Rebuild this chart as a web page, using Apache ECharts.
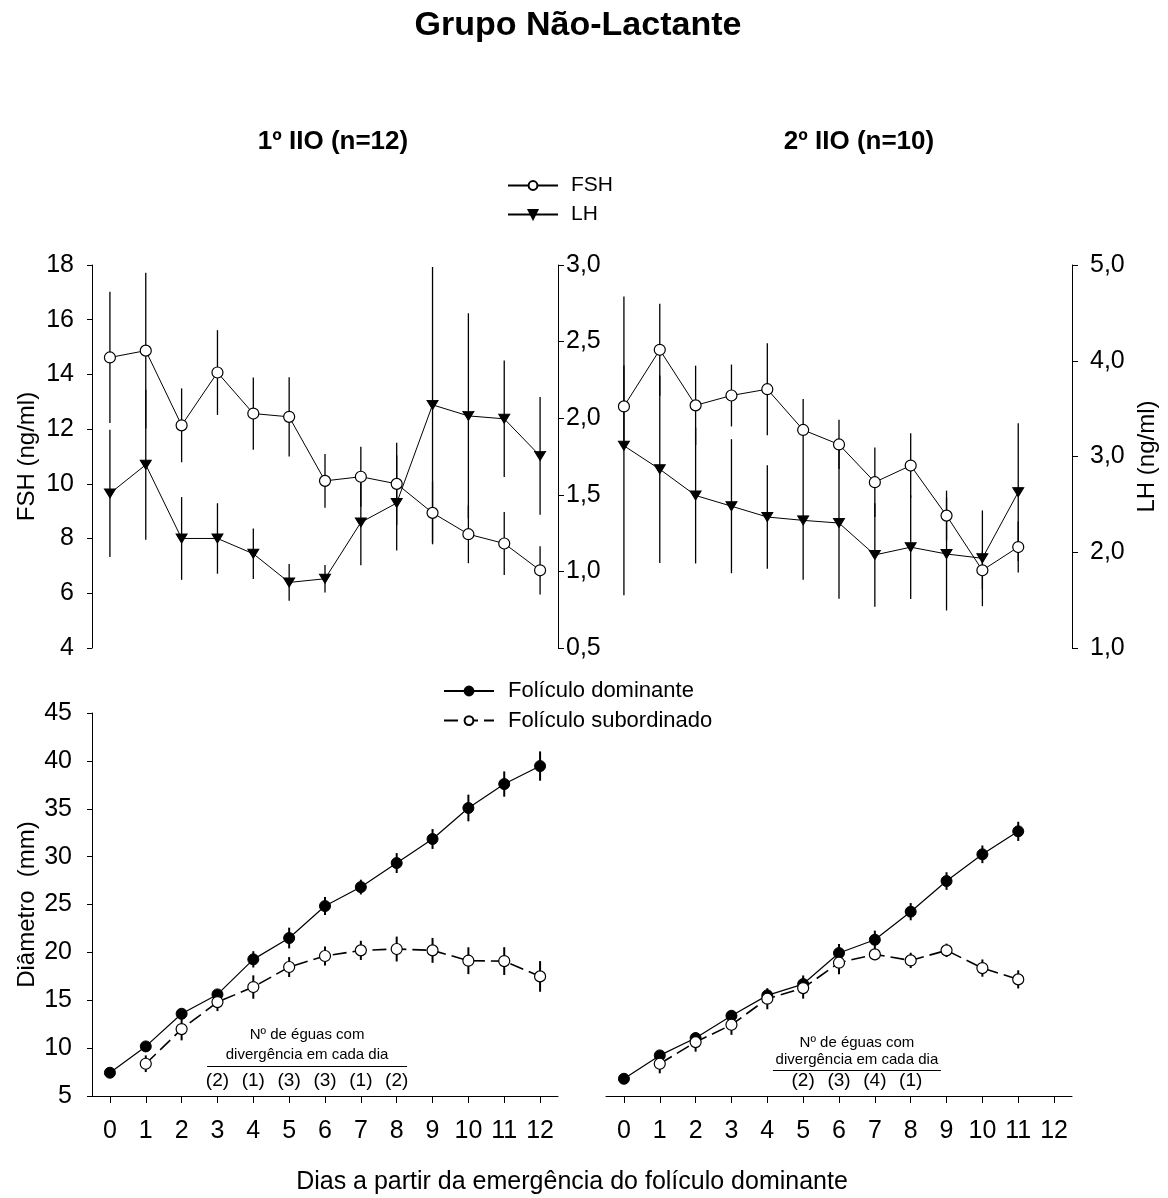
<!DOCTYPE html>
<html>
<head>
<meta charset="utf-8">
<title>Grupo Não-Lactante</title>
<script src="https://cdn.jsdelivr.net/npm/echarts@6/dist/echarts.min.js"></script>
<style>
  html, body { margin: 0; padding: 0; background: #fff; }
  #chart { width: 1168px; height: 1198px; }
</style>
</head>
<body>
<div id="chart"></div>
<script>
// Days from emergence of the dominant follicle (category axis)
const days = ['0', '1', '2', '3', '4', '5', '6', '7', '8', '9', '10', '11', '12'];

// 1st interovulatory interval (n=12): hormones, mean and error
const fsh1    = [14.62, 14.87, 12.14, 14.07, 12.57, 12.45, 10.11, 10.26, 10.00, 8.94, 8.16, 7.82, 6.84];
const fsh1Err = [2.40, 2.85, 1.35, 1.55, 1.32, 1.45, 0.98, 1.10, 1.50, 1.15, 1.06, 1.15, 0.88];
const lh1     = [1.509, 1.696, 1.215, 1.215, 1.115, 0.928, 0.952, 1.320, 1.446, 2.087, 2.015, 1.996, 1.754];
const lh1Err  = [0.415, 0.49, 0.27, 0.23, 0.165, 0.12, 0.09, 0.28, 0.31, 0.90, 0.67, 0.38, 0.385];

// 2nd interovulatory interval (n=10): hormones
const fsh2    = [12.83, 14.90, 12.87, 13.23, 13.46, 11.97, 11.44, 10.06, 10.67, 8.84, 6.84, 7.69];
const fsh2Err = [1.50, 1.68, 1.45, 1.13, 1.68, 1.13, 0.90, 1.27, 1.18, 0.91, 0.70, 0.93];
const lh2     = [3.112, 2.867, 2.593, 2.481, 2.368, 2.333, 2.305, 1.972, 2.053, 1.982, 1.937, 2.628];
const lh2Err  = [1.56, 0.98, 0.71, 0.70, 0.54, 0.62, 0.79, 0.54, 0.54, 0.59, 0.50, 0.72];

// Follicle diameters (mm), 1st interval
const dom1    = [7.43, 10.18, 13.59, 15.61, 19.27, 21.50, 24.84, 26.82, 29.33, 31.84, 35.08, 37.58, 39.46];
const dom1Err = [0.30, 0.35, 0.50, 0.50, 0.85, 1.08, 0.94, 0.77, 1.04, 1.04, 1.39, 1.32, 1.53];
const sub1    = [null, 8.37, 11.99, 14.81, 16.38, 18.47, 19.62, 20.21, 20.35, 20.21, 19.13, 19.09, 17.49];
const sub1Err = [null, 0.87, 1.18, 0.94, 1.22, 1.04, 1.00, 1.00, 1.30, 1.30, 1.40, 1.45, 1.60];

// Follicle diameters (mm), 2nd interval
const dom2    = [6.80, 9.24, 11.05, 13.38, 15.51, 16.69, 19.93, 21.32, 24.25, 27.45, 30.24, 32.64];
const dom2Err = [0.30, 0.40, 0.40, 0.40, 0.60, 0.90, 0.95, 0.95, 0.90, 0.92, 0.92, 1.00];
const sub2    = [null, 8.37, 10.63, 12.44, 15.16, 16.27, 18.92, 19.79, 19.16, 20.21, 18.36, 17.18];
const sub2Err = [null, 1.00, 1.00, 1.05, 1.10, 1.10, 1.20, 0.60, 0.80, 0.70, 0.90, 0.95];

// Number of mares with divergence on each day
const divDays1   = [3, 4, 5, 6, 7, 8];
const divCounts1 = [2, 1, 3, 3, 1, 2];
const divDays2   = [5, 6, 7, 8];
const divCounts2 = [2, 3, 4, 1];

const FONT = "'Liberation Sans', Arial, Helvetica, sans-serif";
const BLACK = '#000';
const commaFmt = v => v.toFixed(1).replace('.', ',');

// Vertical error bars (mean ± error) drawn as plain lines through the marks
function errorBars(xi, yi, vals, errs, width) {
  const data = [];
  vals.forEach((v, i) => { if (v != null) data.push([i, v - errs[i], v + errs[i]]); });
  return {
    type: 'custom', xAxisIndex: xi, yAxisIndex: yi, z: 1, silent: true, clip: false,
    encode: { x: 0, y: [1, 2] },
    data,
    renderItem(params, api) {
      const lo = api.coord([api.value(0), api.value(1)]);
      const hi = api.coord([api.value(0), api.value(2)]);
      return {
        type: 'line',
        shape: { x1: lo[0], y1: lo[1], x2: hi[0], y2: hi[1] },
        style: { stroke: BLACK, lineWidth: width }
      };
    }
  };
}

function lineSeries(name, xi, yi, vals, kind, dashed, width) {
  const s = {
    name, type: 'line', xAxisIndex: xi, yAxisIndex: yi, z: 3,
    data: vals, connectNulls: false, animation: false,
    lineStyle: { color: BLACK, width: width, type: dashed ? [14, 6] : 'solid' },
    itemStyle: { color: BLACK, borderColor: BLACK, borderWidth: 1 },
    symbol: 'circle', symbolSize: 11, showSymbol: true
  };
  if (kind === 'open') {
    s.itemStyle = { color: '#fff', borderColor: BLACK, borderWidth: 1.2 };
  } else if (kind === 'tri') {
    s.symbol = 'triangle';
    s.symbolRotate = 180;
    s.symbolSize = [11, 9];
  }
  return s;
}

// "Nº de éguas com divergência em cada dia" block with one count per day
function divergenceBlock(xi, yi, dList, cList, lay) {
  return {
    type: 'custom', xAxisIndex: xi, yAxisIndex: yi, z: 4, silent: true, clip: false,
    encode: { x: 0 },
    data: dList.map((d, i) => [d, cList[i]]),
    renderItem(params, api) {
      const cs = params.coordSys;
      const base = cs.y + cs.height;
      const x = api.coord([api.value(0), 10])[0];
      const children = [{
        type: 'text',
        style: {
          x, y: base - lay.count, text: '(' + api.value(1) + ')',
          fontSize: 19, fontFamily: FONT, fill: BLACK, align: 'center', verticalAlign: 'middle'
        }
      }];
      if (params.dataIndex === 0) {
        const x0 = api.coord([dList[0], 10])[0];
        const x1 = api.coord([dList[dList.length - 1], 10])[0];
        const cx = (x0 + x1) / 2;
        children.push({
          type: 'line',
          shape: { x1: cx - lay.half, y1: base - lay.rule, x2: cx + lay.half, y2: base - lay.rule },
          style: { stroke: BLACK, lineWidth: 1 }
        });
        children.push({
          type: 'text',
          style: { x: cx, y: base - lay.line2, text: 'divergência em cada dia',
            fontSize: 15, fontFamily: FONT, fill: BLACK, align: 'center', verticalAlign: 'middle' }
        });
        children.push({
          type: 'text',
          style: { x: cx, y: base - lay.line1, text: 'Nº de éguas com',
            fontSize: 15, fontFamily: FONT, fill: BLACK, align: 'center', verticalAlign: 'middle' }
        });
      }
      return { type: 'group', children };
    }
  };
}

const axisLine = { show: true, lineStyle: { color: BLACK, width: 1 } };
const labelBase = { color: BLACK, fontSize: 25, fontFamily: FONT };
const nameStyle = { color: BLACK, fontSize: 24, fontFamily: FONT };

function hiddenX(gi) {
  return { gridIndex: gi, type: 'category', data: days, boundaryGap: true, show: false };
}
function bottomX(gi) {
  return {
    gridIndex: gi, type: 'category', data: days, boundaryGap: true,
    axisLine,
    axisTick: { show: true, alignWithLabel: true, length: 7, lineStyle: { color: BLACK, width: 1 } },
    axisLabel: Object.assign({ interval: 0, margin: 23 }, labelBase),
    splitLine: { show: false }
  };
}

const option = {
  backgroundColor: '#fff',
  animation: false,
  textStyle: { fontFamily: FONT },
  grid: [
    { left: 92, top: 265, width: 466, height: 383 },
    { left: 606, top: 265, width: 466, height: 383 },
    { left: 92, top: 713, width: 466, height: 383 },
    { left: 606, top: 713, width: 466, height: 383 }
  ],
  xAxis: [hiddenX(0), hiddenX(1), bottomX(2), bottomX(3)],
  yAxis: [
    {
      gridIndex: 0, type: 'value', position: 'left', min: 4, max: 18, interval: 2,
      axisLine, axisTick: { show: true, length: 5, lineStyle: { color: BLACK } },
      axisLabel: Object.assign({ margin: 18 }, labelBase), splitLine: { show: false },
      name: 'FSH (ng/ml)', nameLocation: 'middle', nameRotate: 90, nameGap: 53, nameTextStyle: nameStyle
    },
    {
      gridIndex: 0, type: 'value', position: 'right', min: 0.5, max: 3, interval: 0.5,
      axisLine, axisTick: { show: true, length: 6, lineStyle: { color: BLACK } },
      axisLabel: Object.assign({ margin: 8, formatter: commaFmt }, labelBase), splitLine: { show: false }
    },
    { gridIndex: 1, type: 'value', min: 4, max: 18, interval: 2, show: false },
    {
      gridIndex: 1, type: 'value', position: 'right', min: 1, max: 5, interval: 1,
      axisLine, axisTick: { show: true, length: 6, lineStyle: { color: BLACK } },
      axisLabel: Object.assign({ margin: 18, formatter: commaFmt }, labelBase), splitLine: { show: false },
      name: 'LH (ng/ml)', nameLocation: 'middle', nameRotate: 90, nameGap: 63, nameTextStyle: nameStyle
    },
    {
      gridIndex: 2, type: 'value', position: 'left', min: 5, max: 45, interval: 5,
      axisLine, axisTick: { show: true, length: 5, lineStyle: { color: BLACK } },
      axisLabel: Object.assign({ margin: 20 }, labelBase), splitLine: { show: false },
      name: 'Diâmetro  (mm)', nameLocation: 'middle', nameRotate: 90, nameGap: 53, nameTextStyle: nameStyle
    },
    { gridIndex: 3, type: 'value', min: 5, max: 45, interval: 5, show: false }
  ],
  legend: [
    {
      data: ['FSH', 'LH'], orient: 'vertical', left: 507, top: 175, padding: 0,
      itemWidth: 50, itemHeight: 11, itemGap: 8, selectedMode: false,
      textStyle: { color: BLACK, fontSize: 21, lineHeight: 21, fontFamily: FONT, padding: [0, 0, 0, 8] }
    },
    {
      data: ['Folículo dominante', 'Folículo subordinado'], orient: 'vertical', left: 443, top: 680, padding: 0,
      itemWidth: 50, itemHeight: 11, itemGap: 7.6, selectedMode: false,
      textStyle: { color: BLACK, fontSize: 22, lineHeight: 21, fontFamily: FONT, padding: [0, 0, 0, 9] }
    }
  ],
  graphic: [
    { type: 'text', x: 578, y: 26, style: { text: 'Grupo Não-Lactante', fontSize: 34, fontWeight: 'bold',
      fontFamily: FONT, fill: BLACK, align: 'center', verticalAlign: 'middle' } },
    { type: 'text', x: 333, y: 142, style: { text: '1º IIO (n=12)', fontSize: 26, fontWeight: 'bold',
      fontFamily: FONT, fill: BLACK, align: 'center', verticalAlign: 'middle' } },
    { type: 'text', x: 859, y: 142, style: { text: '2º IIO (n=10)', fontSize: 26, fontWeight: 'bold',
      fontFamily: FONT, fill: BLACK, align: 'center', verticalAlign: 'middle' } },
    { type: 'text', x: 572, y: 1182, style: { text: 'Dias a partir da emergência do folículo dominante',
      fontSize: 25, fontFamily: FONT, fill: BLACK, align: 'center', verticalAlign: 'middle' } }
  ],
  series: [
    errorBars(0, 0, fsh1, fsh1Err, 1.3),
    errorBars(0, 1, lh1, lh1Err, 1.3),
    errorBars(1, 2, fsh2, fsh2Err, 1.3),
    errorBars(1, 3, lh2, lh2Err, 1.3),
    errorBars(2, 4, dom1, dom1Err, 2),
    errorBars(2, 4, sub1, sub1Err, 2),
    errorBars(3, 5, dom2, dom2Err, 2),
    errorBars(3, 5, sub2, sub2Err, 2),

    lineSeries('FSH', 0, 0, fsh1, 'open', false, 1),
    lineSeries('LH', 0, 1, lh1, 'tri', false, 1),
    lineSeries('FSH', 1, 2, fsh2, 'open', false, 1),
    lineSeries('LH', 1, 3, lh2, 'tri', false, 1),

    lineSeries('Folículo dominante', 2, 4, dom1, 'filled', false, 1.2),
    lineSeries('Folículo subordinado', 2, 4, sub1, 'open', true, 1.6),
    lineSeries('Folículo dominante', 3, 5, dom2, 'filled', false, 1.2),
    lineSeries('Folículo subordinado', 3, 5, sub2, 'open', true, 1.6),

    divergenceBlock(2, 4, divDays1, divCounts1, { count: 15, rule: 29.5, line2: 41.5, line1: 61.5, half: 100 }),
    divergenceBlock(3, 5, divDays2, divCounts2, { count: 15, rule: 25.5, line2: 36, line1: 53, half: 84 })
  ]
};

const chart = echarts.init(document.getElementById('chart'), null, { renderer: 'canvas' });
chart.setOption(option);
</script>
</body>
</html>
